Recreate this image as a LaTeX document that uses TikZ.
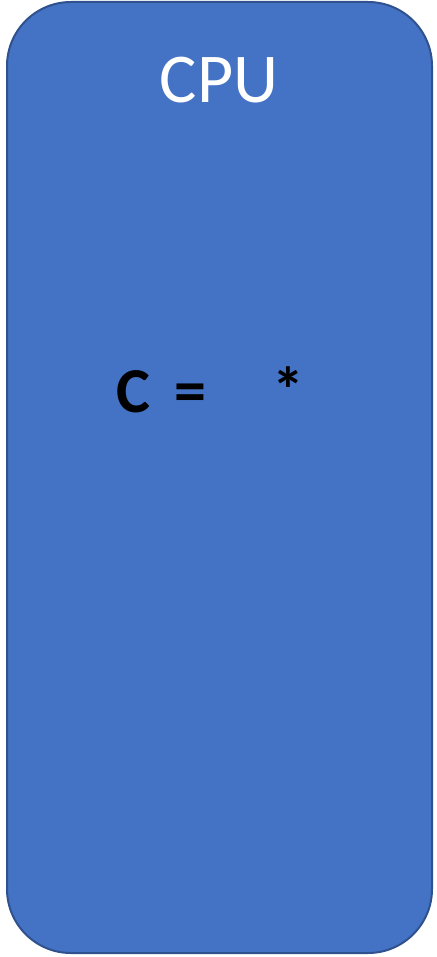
\documentclass[tikz,border=0pt]{standalone}
\usepackage{fontspec}
\setmainfont{Carlito}
\definecolor{boxfill}{HTML}{4472C4}
\definecolor{boxline}{HTML}{2F528F}
\begin{document}
\begin{tikzpicture}[x=1pt,y=-1pt,
  eqtext/.style={inner sep=0pt,anchor=base,font=\fontsize{64}{64}\selectfont\bfseries,text=black}]
\useasboundingbox (0,0) rectangle (436,957);
\draw[boxline,fill=boxfill,line width=2pt,rounded corners=64pt] (7,2) rectangle (432,953);
\node[inner sep=0pt,anchor=base,font=\fontsize{70}{70}\selectfont,text=white] (cpu) at (219,103) {CPU};
\node[eqtext,anchor=base west] (c) at (116,412) {C};
\node[eqtext] (eq) at (190,412) {=};
\node[eqtext] (star) at (288,412) {*};
\end{tikzpicture}
\end{document}
